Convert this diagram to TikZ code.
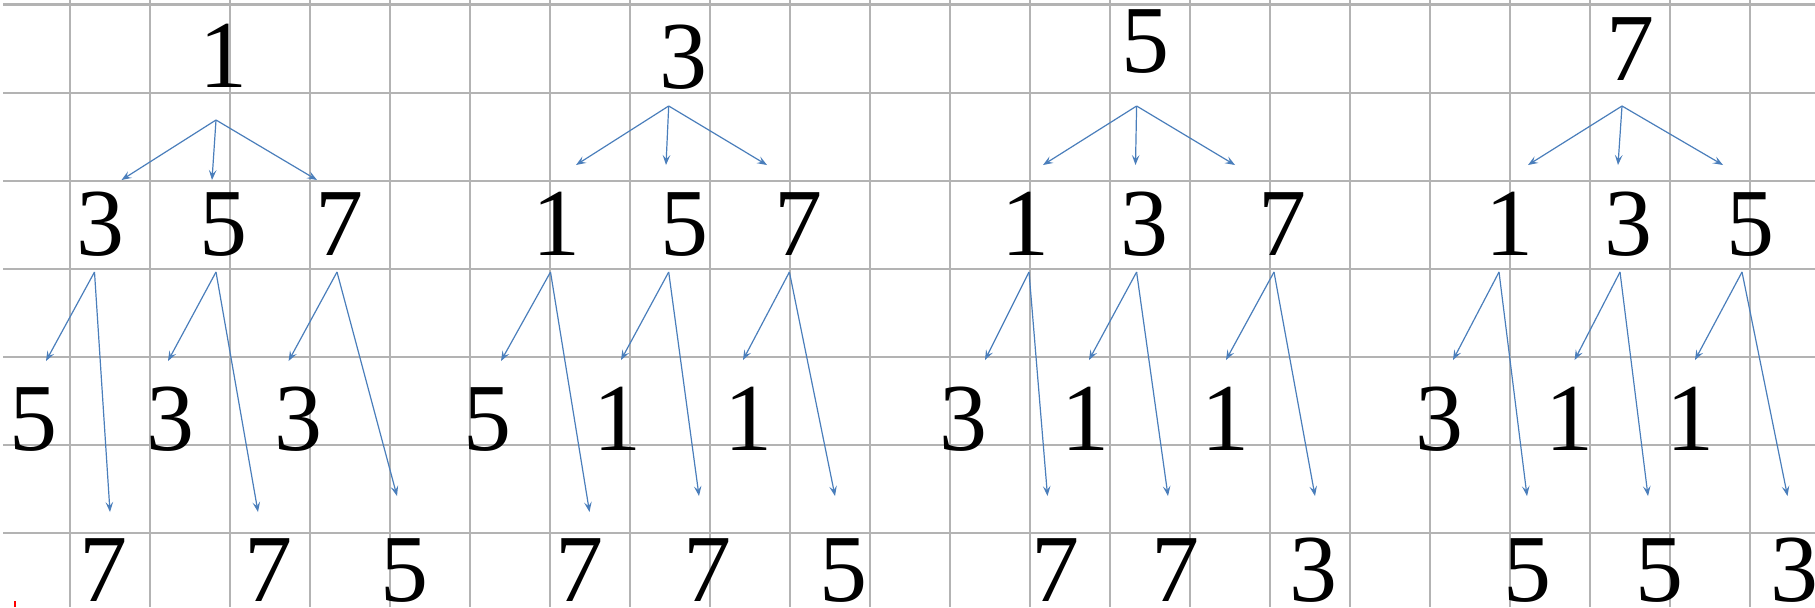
\documentclass[tikz,border=0pt]{standalone}
\usepackage{fontspec}
\setmainfont{Liberation Serif}
\usetikzlibrary{arrows.meta}
\definecolor{gridgray}{HTML}{B3B3B3}
\definecolor{arrowblue}{HTML}{4A7EBB}
\begin{document}
\begin{tikzpicture}[x=0.5pt,y=-0.5pt,
  digit/.style={anchor=base, inner sep=0pt, font=\fontsize{48}{48}\selectfont},
  gridline/.style={draw=gridgray, line width=1.1pt},
  link/.style={draw=arrowblue, line width=0.6pt, -{Stealth[length=5pt,width=3.8pt,inset=2pt]}}]
\useasboundingbox (0,0) rectangle (1815,607);
\foreach \k in {0,...,21} \draw[gridline] ({70+80*\k},0) -- ({70+80*\k},607);
\foreach \k in {0,...,6} \draw[gridline] (3,{4.5+88.1*\k}) -- (1815,{4.5+88.1*\k});
\draw[red, line width=1pt] (15,601) -- (15,607);

% ---------- Tree 1 ----------
\node[digit] (t1) at (223,87) {1};
\node[digit] (t1a) at (100,255) {3};
\node[digit] (t1b) at (223,255) {5};
\node[digit] (t1c) at (339.5,255) {7};
\node[digit] (t1a1) at (34,450) {5};
\node[digit] (t1b1) at (170,450) {3};
\node[digit] (t1c1) at (298,450) {3};
\node[digit] (t1a2) at (103,601) {7};
\node[digit] (t1b2) at (268,601) {7};
\node[digit] (t1c2) at (404,601) {5};
\coordinate (t1s) at (216,120);
\coordinate (t1ae) at (121.5,180);
\coordinate (t1be) at (212,180);
\coordinate (t1ce) at (317,180);
\coordinate (t1as) at (94.5,272);
\coordinate (t1bs) at (216,272);
\coordinate (t1cs) at (337,272);
\coordinate (t1a1e) at (46,361);
\coordinate (t1b1e) at (168,361);
\coordinate (t1c1e) at (288.6,361);
\coordinate (t1a2e) at (110,512);
\coordinate (t1b2e) at (258,512);
\coordinate (t1c2e) at (397,496);
\draw[link] (t1s) -- (t1ae);
\draw[link] (t1s) -- (t1be);
\draw[link] (t1s) -- (t1ce);
\draw[link] (t1as) -- (t1a1e);
\draw[link] (t1as) -- (t1a2e);
\draw[link] (t1bs) -- (t1b1e);
\draw[link] (t1bs) -- (t1b2e);
\draw[link] (t1cs) -- (t1c1e);
\draw[link] (t1cs) -- (t1c2e);

% ---------- Tree 2 ----------
\node[digit] (t2) at (683,88) {3};
\node[digit] (t2a) at (556,255) {1};
\node[digit] (t2b) at (684,255) {5};
\node[digit] (t2c) at (798,255) {7};
\node[digit] (t2a1) at (487,450) {5};
\node[digit] (t2b1) at (617,450) {1};
\node[digit] (t2c1) at (748.5,450) {1};
\node[digit] (t2a2) at (579,601) {7};
\node[digit] (t2b2) at (707.6,601) {7};
\node[digit] (t2c2) at (843,601) {5};
\coordinate (t2s) at (668.7,106);
\coordinate (t2ae) at (576,165);
\coordinate (t2be) at (666,165);
\coordinate (t2ce) at (767,165);
\coordinate (t2as) at (550.5,272);
\coordinate (t2bs) at (668.7,272);
\coordinate (t2cs) at (789.4,272);
\coordinate (t2a1e) at (501,361);
\coordinate (t2b1e) at (621,360);
\coordinate (t2c1e) at (743,360);
\coordinate (t2a2e) at (589.5,512);
\coordinate (t2b2e) at (699,496);
\coordinate (t2c2e) at (835,496);
\draw[link] (t2s) -- (t2ae);
\draw[link] (t2s) -- (t2be);
\draw[link] (t2s) -- (t2ce);
\draw[link] (t2as) -- (t2a1e);
\draw[link] (t2as) -- (t2a2e);
\draw[link] (t2bs) -- (t2b1e);
\draw[link] (t2bs) -- (t2b2e);
\draw[link] (t2cs) -- (t2c1e);
\draw[link] (t2cs) -- (t2c2e);

% ---------- Tree 3 ----------
\node[digit] (t3) at (1145,72) {5};
\node[digit] (t3a) at (1025,255) {1};
\node[digit] (t3b) at (1144,255) {3};
\node[digit] (t3c) at (1282,255) {7};
\node[digit] (t3a1) at (963,450) {3};
\node[digit] (t3b1) at (1085,450) {1};
\node[digit] (t3c1) at (1225,450) {1};
\node[digit] (t3a2) at (1055,601) {7};
\node[digit] (t3b2) at (1175.6,601) {7};
\node[digit] (t3c2) at (1313,601) {3};
\coordinate (t3s) at (1136.6,106);
\coordinate (t3ae) at (1043,165);
\coordinate (t3be) at (1135.5,165);
\coordinate (t3ce) at (1235,165);
\coordinate (t3as) at (1029,272);
\coordinate (t3bs) at (1136.6,272);
\coordinate (t3cs) at (1274,272);
\coordinate (t3a1e) at (985,360);
\coordinate (t3b1e) at (1089,360);
\coordinate (t3c1e) at (1226,360);
\coordinate (t3a2e) at (1047.5,496);
\coordinate (t3b2e) at (1168,496);
\coordinate (t3c2e) at (1315,496);
\draw[link] (t3s) -- (t3ae);
\draw[link] (t3s) -- (t3be);
\draw[link] (t3s) -- (t3ce);
\draw[link] (t3as) -- (t3a1e);
\draw[link] (t3as) -- (t3a2e);
\draw[link] (t3bs) -- (t3b1e);
\draw[link] (t3bs) -- (t3b2e);
\draw[link] (t3cs) -- (t3c1e);
\draw[link] (t3cs) -- (t3c2e);

% ---------- Tree 4 ----------
\node[digit] (t4) at (1630,80) {7};
\node[digit] (t4a) at (1509,255) {1};
\node[digit] (t4b) at (1628,255) {3};
\node[digit] (t4c) at (1750,255) {5};
\node[digit] (t4a1) at (1439,450) {3};
\node[digit] (t4b1) at (1569.6,450) {1};
\node[digit] (t4c1) at (1690,450) {1};
\node[digit] (t4a2) at (1527,601) {5};
\node[digit] (t4b2) at (1659.5,601) {5};
\node[digit] (t4c2) at (1794.5,601) {3};
\coordinate (t4s) at (1622,106);
\coordinate (t4ae) at (1528,165);
\coordinate (t4be) at (1618,165);
\coordinate (t4ce) at (1723,165);
\coordinate (t4as) at (1499,272);
\coordinate (t4bs) at (1620,272);
\coordinate (t4cs) at (1742,272);
\coordinate (t4a1e) at (1453,360);
\coordinate (t4b1e) at (1574.6,360);
\coordinate (t4c1e) at (1695,360);
\coordinate (t4a2e) at (1527,496);
\coordinate (t4b2e) at (1648,496);
\coordinate (t4c2e) at (1787.5,496);
\draw[link] (t4s) -- (t4ae);
\draw[link] (t4s) -- (t4be);
\draw[link] (t4s) -- (t4ce);
\draw[link] (t4as) -- (t4a1e);
\draw[link] (t4as) -- (t4a2e);
\draw[link] (t4bs) -- (t4b1e);
\draw[link] (t4bs) -- (t4b2e);
\draw[link] (t4cs) -- (t4c1e);
\draw[link] (t4cs) -- (t4c2e);
\end{tikzpicture}
\end{document}
